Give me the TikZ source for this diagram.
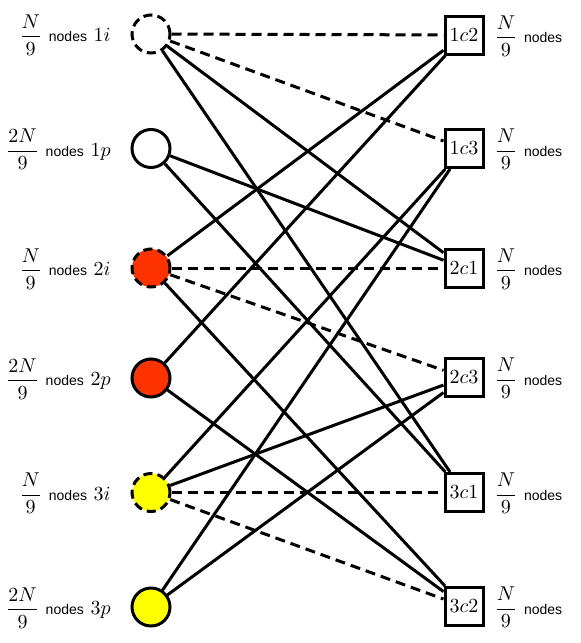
\documentclass[tikz,border=0pt]{standalone}
\usepackage{amsmath}
\usepackage{fontspec}
\setsansfont{Liberation Sans}
\definecolor{cred}{RGB}{255,51,0}
\definecolor{cyel}{RGB}{255,255,0}
\begin{document}
\begin{tikzpicture}[x=0.5pt,y=-0.5pt,
  lnode/.style={circle, draw, line width=1.5pt, minimum size=19pt, inner sep=0pt},
  idash/.style={dash pattern=on 4.5pt off 2.6pt},
  cnode/.style={rectangle, draw, fill=white, line width=1.5pt, minimum size=19pt, inner sep=0pt},
  edgeline/.style={line width=1.5pt},
  dedge/.style={edgeline, dash pattern=on 5pt off 3pt},
  llab/.style={anchor=east, inner sep=0pt},
  rlab/.style={anchor=west, inner sep=0pt},
  nd/.style={font=\scriptsize\sffamily}]
\useasboundingbox (0,0) rectangle (581,643);
% left nodes
\node[lnode, idash, fill=white] (1i) at (151,34) {};
\node[lnode, fill=white] (1p) at (151,148.5) {};
\node[lnode, idash, fill=cred] (2i) at (151,268) {};
\node[lnode, fill=cred] (2p) at (151,378) {};
\node[lnode, idash, fill=cyel] (3i) at (151,492.5) {};
\node[lnode, fill=cyel] (3p) at (151,607) {};
% right nodes
\node[cnode] (1c2) at (464,35) {$1c2$};
\node[cnode] (1c3) at (464,148.5) {$1c3$};
\node[cnode] (2c1) at (464,268) {$2c1$};
\node[cnode] (2c3) at (464,377.5) {$2c3$};
\node[cnode] (3c1) at (464,492.5) {$3c1$};
\node[cnode] (3c2) at (464,606.5) {$3c2$};
% left labels
\node[llab] (t1i) at (111,35) {$\dfrac{N}{9}$ {\scriptsize\sffamily nodes} $1i$};
\node[llab] (t1p) at (111,149.5) {$\dfrac{2N}{9}$ {\scriptsize\sffamily nodes} $1p$};
\node[llab] (t2i) at (111,269) {$\dfrac{N}{9}$ {\scriptsize\sffamily nodes} $2i$};
\node[llab] (t2p) at (111,379) {$\dfrac{2N}{9}$ {\scriptsize\sffamily nodes} $2p$};
\node[llab] (t3i) at (111,493.5) {$\dfrac{N}{9}$ {\scriptsize\sffamily nodes} $3i$};
\node[llab] (t3p) at (111,608) {$\dfrac{2N}{9}$ {\scriptsize\sffamily nodes} $3p$};
% right labels
\node[rlab] (r1) at (494,36) {$\dfrac{N}{9}$ {\scriptsize\sffamily nodes}};
\node[rlab] (r2) at (494,149.5) {$\dfrac{N}{9}$ {\scriptsize\sffamily nodes}};
\node[rlab] (r3) at (494,269) {$\dfrac{N}{9}$ {\scriptsize\sffamily nodes}};
\node[rlab] (r4) at (494,378.5) {$\dfrac{N}{9}$ {\scriptsize\sffamily nodes}};
\node[rlab] (r5) at (494,493.5) {$\dfrac{N}{9}$ {\scriptsize\sffamily nodes}};
\node[rlab] (r6) at (494,607.5) {$\dfrac{N}{9}$ {\scriptsize\sffamily nodes}};
% dashed edges
\draw[dedge] (1i) -- (1c2);
\draw[dedge] (1i) -- (1c3);
\draw[dedge] (2i) -- (2c1);
\draw[dedge] (2i) -- (2c3);
\draw[dedge] (3i) -- (3c1);
\draw[dedge] (3i) -- (3c2);
% solid edges
\draw[edgeline] (1i) -- (2c1);
\draw[edgeline] (1i) -- (3c1);
\draw[edgeline] (1p) -- (2c1);
\draw[edgeline] (1p) -- (3c1);
\draw[edgeline] (2i) -- (1c2);
\draw[edgeline] (2i) -- (3c2);
\draw[edgeline] (2p) -- (1c2);
\draw[edgeline] (2p) -- (3c2);
\draw[edgeline] (3i) -- (1c3);
\draw[edgeline] (3i) -- (2c3);
\draw[edgeline] (3p) -- (1c3);
\draw[edgeline] (3p) -- (2c3);
\end{tikzpicture}
\end{document}
